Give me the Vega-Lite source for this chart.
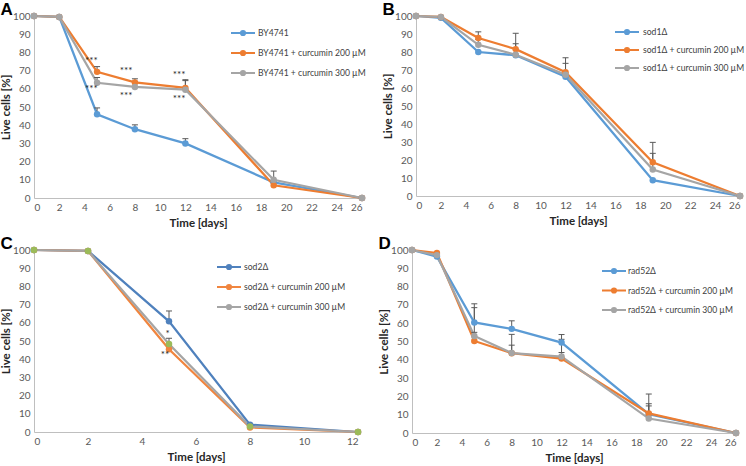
{
  "$schema": "https://vega.github.io/schema/vega-lite/v6.json",
  "padding": {"left": 0, "top": 1, "right": 1, "bottom": 0},
  "config": {
    "view": {"stroke": null},
    "font": "Lato",
    "axis": {"domainColor": "#BFBFBF", "domainWidth": 1, "ticks": false, "grid": false, "labelFontSize": 10, "labelColor": "#595959", "labelFont": "Lato", "titleFont": "Lato", "titleFontSize": 11.5, "titleFontWeight": "bold", "titleColor": "#262626", "labelPadding": 4, "titlePadding": 5},
    "axisY": {"titlePadding": 1},
    "title": {"font": "Liberation Sans", "fontSize": 17, "fontWeight": "bold", "color": "#000000", "anchor": "start", "frame": "bounds", "offset": -8}
  },
  "datasets": {
    "A": [
      {"s": "BY4741", "t": 0, "v": 100}, {"s": "BY4741", "t": 2, "v": 99.5}, {"s": "BY4741", "t": 5, "v": 46, "hi": 49.5}, {"s": "BY4741", "t": 8, "v": 37.8, "hi": 40.2}, {"s": "BY4741", "t": 12, "v": 30, "hi": 32.6}, {"s": "BY4741", "t": 19, "v": 8.6}, {"s": "BY4741", "t": 26, "v": 0},
      {"s": "BY4741 + curcumin 200 µM", "t": 0, "v": 100}, {"s": "BY4741 + curcumin 200 µM", "t": 2, "v": 99.5}, {"s": "BY4741 + curcumin 200 µM", "t": 5, "v": 69.3, "hi": 72.2}, {"s": "BY4741 + curcumin 200 µM", "t": 8, "v": 63.5, "hi": 65.5}, {"s": "BY4741 + curcumin 200 µM", "t": 12, "v": 60.5, "hi": 64.5}, {"s": "BY4741 + curcumin 200 µM", "t": 19, "v": 7}, {"s": "BY4741 + curcumin 200 µM", "t": 26, "v": 0},
      {"s": "BY4741 + curcumin 300 µM", "t": 0, "v": 100}, {"s": "BY4741 + curcumin 300 µM", "t": 2, "v": 99.5}, {"s": "BY4741 + curcumin 300 µM", "t": 5, "v": 63.3, "hi": 66.2}, {"s": "BY4741 + curcumin 300 µM", "t": 8, "v": 61, "hi": 64}, {"s": "BY4741 + curcumin 300 µM", "t": 12, "v": 59.5, "hi": 65}, {"s": "BY4741 + curcumin 300 µM", "t": 19, "v": 10, "hi": 14.8}, {"s": "BY4741 + curcumin 300 µM", "t": 26, "v": 0}
    ],
    "Anote": [
      {"t": 4.55, "v": 75, "label": "***"}, {"t": 7.3, "v": 69.5, "label": "***"}, {"t": 11.5, "v": 67, "label": "***"},
      {"t": 4.55, "v": 59.5, "label": "***"}, {"t": 7.3, "v": 55.5, "label": "***"}, {"t": 11.5, "v": 54, "label": "***"}
    ],
    "B": [
      {"s": "sod1Δ", "t": 0, "v": 100}, {"s": "sod1Δ", "t": 2, "v": 99}, {"s": "sod1Δ", "t": 5, "v": 80}, {"s": "sod1Δ", "t": 8, "v": 78.2}, {"s": "sod1Δ", "t": 12, "v": 66.3}, {"s": "sod1Δ", "t": 19, "v": 8.8}, {"s": "sod1Δ", "t": 26, "v": 0},
      {"s": "sod1Δ + curcumin 200 µM", "t": 0, "v": 100}, {"s": "sod1Δ + curcumin 200 µM", "t": 2, "v": 99.5}, {"s": "sod1Δ + curcumin 200 µM", "t": 5, "v": 87.8, "hi": 91.2}, {"s": "sod1Δ + curcumin 200 µM", "t": 8, "v": 81.6, "hi": 90.4}, {"s": "sod1Δ + curcumin 200 µM", "t": 12, "v": 68.8, "hi": 76.8}, {"s": "sod1Δ + curcumin 200 µM", "t": 19, "v": 18.7, "hi": 29.8}, {"s": "sod1Δ + curcumin 200 µM", "t": 26, "v": 0},
      {"s": "sod1Δ + curcumin 300 µM", "t": 0, "v": 100}, {"s": "sod1Δ + curcumin 300 µM", "t": 2, "v": 99.5}, {"s": "sod1Δ + curcumin 300 µM", "t": 5, "v": 84, "hi": 87}, {"s": "sod1Δ + curcumin 300 µM", "t": 8, "v": 78.5, "hi": 84.6}, {"s": "sod1Δ + curcumin 300 µM", "t": 12, "v": 67.4, "hi": 73.7}, {"s": "sod1Δ + curcumin 300 µM", "t": 19, "v": 14.7, "hi": 23.7}, {"s": "sod1Δ + curcumin 300 µM", "t": 26, "v": 0}
    ],
    "C": [
      {"s": "sod2Δ", "t": 0, "v": 100}, {"s": "sod2Δ", "t": 2, "v": 99.5}, {"s": "sod2Δ", "t": 5, "v": 60.8, "hi": 66.5}, {"s": "sod2Δ", "t": 8, "v": 4}, {"s": "sod2Δ", "t": 12, "v": 0},
      {"s": "sod2Δ + curcumin 200 µM", "t": 0, "v": 100}, {"s": "sod2Δ + curcumin 200 µM", "t": 2, "v": 99.5}, {"s": "sod2Δ + curcumin 200 µM", "t": 5, "v": 45.5, "hi": 47.5}, {"s": "sod2Δ + curcumin 200 µM", "t": 8, "v": 2.5}, {"s": "sod2Δ + curcumin 200 µM", "t": 12, "v": 0},
      {"s": "sod2Δ + curcumin 300 µM", "t": 0, "v": 100}, {"s": "sod2Δ + curcumin 300 µM", "t": 2, "v": 99.5}, {"s": "sod2Δ + curcumin 300 µM", "t": 5, "v": 48.3, "hi": 51.5}, {"s": "sod2Δ + curcumin 300 µM", "t": 8, "v": 3}, {"s": "sod2Δ + curcumin 300 µM", "t": 12, "v": 0}
    ],
    "Cnote": [
      {"t": 4.95, "v": 53, "label": "*"}, {"t": 4.85, "v": 41, "label": "**"}
    ],
    "D": [
      {"s": "rad52Δ", "t": 0, "v": 100}, {"s": "rad52Δ", "t": 2, "v": 96.4}, {"s": "rad52Δ", "t": 5, "v": 60.4, "hi": 70.6}, {"s": "rad52Δ", "t": 8, "v": 56.9, "hi": 61.3}, {"s": "rad52Δ", "t": 12, "v": 49.4, "hi": 53.8}, {"s": "rad52Δ", "t": 19, "v": 10.3, "hi": 16}, {"s": "rad52Δ", "t": 26, "v": 0},
      {"s": "rad52Δ + curcumin 200 µM", "t": 0, "v": 100}, {"s": "rad52Δ + curcumin 200 µM", "t": 2, "v": 98.3}, {"s": "rad52Δ + curcumin 200 µM", "t": 5, "v": 50.3, "hi": 55}, {"s": "rad52Δ + curcumin 200 µM", "t": 8, "v": 43.6, "hi": 48}, {"s": "rad52Δ + curcumin 200 µM", "t": 12, "v": 40.7, "hi": 44}, {"s": "rad52Δ + curcumin 200 µM", "t": 19, "v": 10.7, "hi": 21.3}, {"s": "rad52Δ + curcumin 200 µM", "t": 26, "v": 0},
      {"s": "rad52Δ + curcumin 300 µM", "t": 0, "v": 100}, {"s": "rad52Δ + curcumin 300 µM", "t": 2, "v": 97.2}, {"s": "rad52Δ + curcumin 300 µM", "t": 5, "v": 53, "hi": 68.5}, {"s": "rad52Δ + curcumin 300 µM", "t": 8, "v": 43.7, "hi": 53.9}, {"s": "rad52Δ + curcumin 300 µM", "t": 12, "v": 41.8, "hi": 51.2}, {"s": "rad52Δ + curcumin 300 µM", "t": 19, "v": 7.9, "hi": 14.8}, {"s": "rad52Δ + curcumin 300 µM", "t": 26, "v": 0}
    ]
  },
  "resolve": {"scale": {"color": "independent"}, "legend": {"color": "independent"}},
  "spacing": 6,
  "vconcat": [
    {
      "spacing": 15,
      "resolve": {"scale": {"color": "independent"}, "legend": {"color": "independent"}},
      "hconcat": [
        {
          "width": 328, "height": 182,
          "title": {"text": "A"},
          "data": {"name": "A"},
          "encoding": {
            "x": {"field": "t", "type": "quantitative", "scale": {"domain": [0, 26], "nice": false}, "axis": {"values": [0, 2, 4, 6, 8, 10, 12, 14, 16, 18, 20, 22, 24, 26], "title": "Time [days]"}},
            "y": {"field": "v", "type": "quantitative", "scale": {"domain": [0, 100], "nice": false}, "axis": {"values": [0, 10, 20, 30, 40, 50, 60, 70, 80, 90, 100], "title": "Live cells [%]"}}
          },
          "layer": [
            {"mark": {"type": "line", "strokeWidth": 2.25},
             "encoding": {"color": {"field": "s", "type": "nominal",
               "scale": {"domain": ["BY4741", "BY4741 + curcumin 200 µM", "BY4741 + curcumin 300 µM"], "range": ["#5B9BD5", "#ED7D31", "#A5A5A5"]},
               "legend": {"title": null, "orient": "none", "legendX": 202, "legendY": 10, "padding": 0, "symbolType": "M-2,0H2M0.35,0A0.35,0.35,0,1,1,-0.35,0A0.35,0.35,0,1,1,0.35,0Z", "symbolSize": 144, "symbolStrokeWidth": 2, "labelOffset": 8, "rowPadding": 6, "labelFontSize": 8.6, "labelFont": "Lato", "labelColor": "#404040", "labelLimit": 0,
                 "encode": {"symbols": {"update": {"fill": {"signal": "{'BY4741':'#5B9BD5','BY4741 + curcumin 200 µM':'#ED7D31','BY4741 + curcumin 300 µM':'#A5A5A5'}[datum.value]"}, "stroke": {"signal": "{'BY4741':'#5B9BD5','BY4741 + curcumin 200 µM':'#ED7D31','BY4741 + curcumin 300 µM':'#A5A5A5'}[datum.value]"}, "opacity": {"value": 1}}}}}}}},
            {"transform": [{"filter": "isValid(datum.hi)"}], "mark": {"type": "rule", "color": "#595959", "strokeWidth": 1}, "encoding": {"y2": {"field": "hi"}}},
            {"transform": [{"filter": "isValid(datum.hi)"}], "mark": {"type": "tick", "orient": "horizontal", "color": "#595959", "size": 6, "thickness": 1, "opacity": 1}, "encoding": {"y": {"field": "hi", "type": "quantitative"}}},
            {"mark": {"type": "point", "filled": true, "size": 42, "opacity": 1},
             "encoding": {"color": {"field": "s", "type": "nominal", "scale": {"domain": ["BY4741", "BY4741 + curcumin 200 µM", "BY4741 + curcumin 300 µM"], "range": ["#5B9BD5", "#ED7D31", "#A5A5A5"]}, "legend": null}}},
            {"data": {"name": "Anote"}, "mark": {"type": "text", "fontSize": 10, "color": "#262626", "baseline": "middle", "dy": -1}, "encoding": {"text": {"field": "label"}}}
          ]
        },
        {
          "width": 324, "height": 180,
          "title": {"text": "B"},
          "data": {"name": "B"},
          "encoding": {
            "x": {"field": "t", "type": "quantitative", "scale": {"domain": [0, 26], "nice": false}, "axis": {"values": [0, 2, 4, 6, 8, 10, 12, 14, 16, 18, 20, 22, 24, 26], "title": "Time [days]"}},
            "y": {"field": "v", "type": "quantitative", "scale": {"domain": [0, 100], "nice": false}, "axis": {"values": [0, 10, 20, 30, 40, 50, 60, 70, 80, 90, 100], "title": "Live cells [%]"}}
          },
          "layer": [
            {"mark": {"type": "line", "strokeWidth": 2.25},
             "encoding": {"color": {"field": "s", "type": "nominal",
               "scale": {"domain": ["sod1Δ", "sod1Δ + curcumin 200 µM", "sod1Δ + curcumin 300 µM"], "range": ["#5B9BD5", "#ED7D31", "#A5A5A5"]},
               "legend": {"title": null, "orient": "none", "legendX": 204, "legendY": 9, "padding": 0, "symbolType": "M-2,0H2M0.35,0A0.35,0.35,0,1,1,-0.35,0A0.35,0.35,0,1,1,0.35,0Z", "symbolSize": 144, "symbolStrokeWidth": 2, "labelOffset": 9, "rowPadding": 4, "labelFontSize": 8.6, "labelFont": "Lato", "labelColor": "#404040", "labelLimit": 0,
                 "encode": {"symbols": {"update": {"fill": {"signal": "{'sod1Δ':'#5B9BD5','sod1Δ + curcumin 200 µM':'#ED7D31','sod1Δ + curcumin 300 µM':'#A5A5A5'}[datum.value]"}, "stroke": {"signal": "{'sod1Δ':'#5B9BD5','sod1Δ + curcumin 200 µM':'#ED7D31','sod1Δ + curcumin 300 µM':'#A5A5A5'}[datum.value]"}, "opacity": {"value": 1}}}}}}}},
            {"transform": [{"filter": "isValid(datum.hi)"}], "mark": {"type": "rule", "color": "#595959", "strokeWidth": 1}, "encoding": {"y2": {"field": "hi"}}},
            {"transform": [{"filter": "isValid(datum.hi)"}], "mark": {"type": "tick", "orient": "horizontal", "color": "#595959", "size": 6, "thickness": 1, "opacity": 1}, "encoding": {"y": {"field": "hi", "type": "quantitative"}}},
            {"mark": {"type": "point", "filled": true, "size": 42, "opacity": 1},
             "encoding": {"color": {"field": "s", "type": "nominal", "scale": {"domain": ["sod1Δ", "sod1Δ + curcumin 200 µM", "sod1Δ + curcumin 300 µM"], "range": ["#5B9BD5", "#ED7D31", "#A5A5A5"]}, "legend": null}}}
          ]
        }
      ]
    },
    {
      "spacing": 15,
      "resolve": {"scale": {"color": "independent"}, "legend": {"color": "independent"}},
      "hconcat": [
        {
          "width": 324, "height": 182,
          "title": {"text": "C"},
          "data": {"name": "C"},
          "encoding": {
            "x": {"field": "t", "type": "quantitative", "scale": {"domain": [0, 12], "nice": false}, "axis": {"values": [0, 2, 4, 6, 8, 10, 12], "title": "Time [days]"}},
            "y": {"field": "v", "type": "quantitative", "scale": {"domain": [0, 100], "nice": false}, "axis": {"values": [0, 10, 20, 30, 40, 50, 60, 70, 80, 90, 100], "title": "Live cells [%]"}}
          },
          "resolve": {"scale": {"color": "independent"}, "legend": {"color": "independent"}},
          "layer": [
            {"mark": {"type": "line", "strokeWidth": 2.25},
             "encoding": {"color": {"field": "s", "type": "nominal",
               "scale": {"domain": ["sod2Δ", "sod2Δ + curcumin 200 µM", "sod2Δ + curcumin 300 µM"], "range": ["#4F81BD", "#F0853F", "#A5A5A5"]},
               "legend": {"title": null, "orient": "none", "legendX": 188, "legendY": 10, "padding": 0, "symbolType": "M-2,0H2M0.35,0A0.35,0.35,0,1,1,-0.35,0A0.35,0.35,0,1,1,0.35,0Z", "symbolSize": 144, "symbolStrokeWidth": 2, "labelOffset": 8, "rowPadding": 6, "labelFontSize": 8.6, "labelFont": "Lato", "labelColor": "#404040", "labelLimit": 0,
                 "encode": {"symbols": {"update": {"fill": {"signal": "{'sod2Δ':'#4F81BD','sod2Δ + curcumin 200 µM':'#F0853F','sod2Δ + curcumin 300 µM':'#9BBB59'}[datum.value]"}, "stroke": {"signal": "{'sod2Δ':'#4F81BD','sod2Δ + curcumin 200 µM':'#F0853F','sod2Δ + curcumin 300 µM':'#A5A5A5'}[datum.value]"}, "opacity": {"value": 1}}}}}}}},
            {"transform": [{"filter": "isValid(datum.hi)"}], "mark": {"type": "rule", "color": "#595959", "strokeWidth": 1}, "encoding": {"y2": {"field": "hi"}}},
            {"transform": [{"filter": "isValid(datum.hi)"}], "mark": {"type": "tick", "orient": "horizontal", "color": "#595959", "size": 6, "thickness": 1, "opacity": 1}, "encoding": {"y": {"field": "hi", "type": "quantitative"}}},
            {"mark": {"type": "point", "filled": true, "size": 42, "opacity": 1},
             "encoding": {"color": {"field": "s", "type": "nominal", "scale": {"domain": ["sod2Δ", "sod2Δ + curcumin 200 µM", "sod2Δ + curcumin 300 µM"], "range": ["#4F81BD", "#F0853F", "#9BBB59"]}, "legend": null}}},
            {"data": {"name": "Cnote"}, "mark": {"type": "text", "fontSize": 10, "color": "#262626", "baseline": "middle", "dy": -2}, "encoding": {"text": {"field": "label"}}}
          ]
        },
        {
          "width": 324, "height": 183,
          "title": {"text": "D"},
          "data": {"name": "D"},
          "encoding": {
            "x": {"field": "t", "type": "quantitative", "scale": {"domain": [0, 26], "nice": false}, "axis": {"values": [0, 2, 4, 6, 8, 10, 12, 14, 16, 18, 20, 22, 24, 26], "title": "Time [days]"}},
            "y": {"field": "v", "type": "quantitative", "scale": {"domain": [0, 100], "nice": false}, "axis": {"values": [0, 10, 20, 30, 40, 50, 60, 70, 80, 90, 100], "title": "Live cells [%]"}}
          },
          "layer": [
            {"mark": {"type": "line", "strokeWidth": 2.25},
             "encoding": {"color": {"field": "s", "type": "nominal",
               "scale": {"domain": ["rad52Δ", "rad52Δ + curcumin 200 µM", "rad52Δ + curcumin 300 µM"], "range": ["#5B9BD5", "#ED7D31", "#A5A5A5"]},
               "legend": {"title": null, "orient": "none", "legendX": 195, "legendY": 14, "padding": 0, "symbolType": "M-2,0H2M0.35,0A0.35,0.35,0,1,1,-0.35,0A0.35,0.35,0,1,1,0.35,0Z", "symbolSize": 144, "symbolStrokeWidth": 2, "labelOffset": 7, "rowPadding": 5.5, "labelFontSize": 8.6, "labelFont": "Lato", "labelColor": "#404040", "labelLimit": 0,
                 "encode": {"symbols": {"update": {"fill": {"signal": "{'rad52Δ':'#5B9BD5','rad52Δ + curcumin 200 µM':'#ED7D31','rad52Δ + curcumin 300 µM':'#A5A5A5'}[datum.value]"}, "stroke": {"signal": "{'rad52Δ':'#5B9BD5','rad52Δ + curcumin 200 µM':'#ED7D31','rad52Δ + curcumin 300 µM':'#A5A5A5'}[datum.value]"}, "opacity": {"value": 1}}}}}}}},
            {"transform": [{"filter": "isValid(datum.hi)"}], "mark": {"type": "rule", "color": "#595959", "strokeWidth": 1}, "encoding": {"y2": {"field": "hi"}}},
            {"transform": [{"filter": "isValid(datum.hi)"}], "mark": {"type": "tick", "orient": "horizontal", "color": "#595959", "size": 6, "thickness": 1, "opacity": 1}, "encoding": {"y": {"field": "hi", "type": "quantitative"}}},
            {"mark": {"type": "point", "filled": true, "size": 42, "opacity": 1},
             "encoding": {"color": {"field": "s", "type": "nominal", "scale": {"domain": ["rad52Δ", "rad52Δ + curcumin 200 µM", "rad52Δ + curcumin 300 µM"], "range": ["#5B9BD5", "#ED7D31", "#A5A5A5"]}, "legend": null}}}
          ]
        }
      ]
    }
  ]
}
